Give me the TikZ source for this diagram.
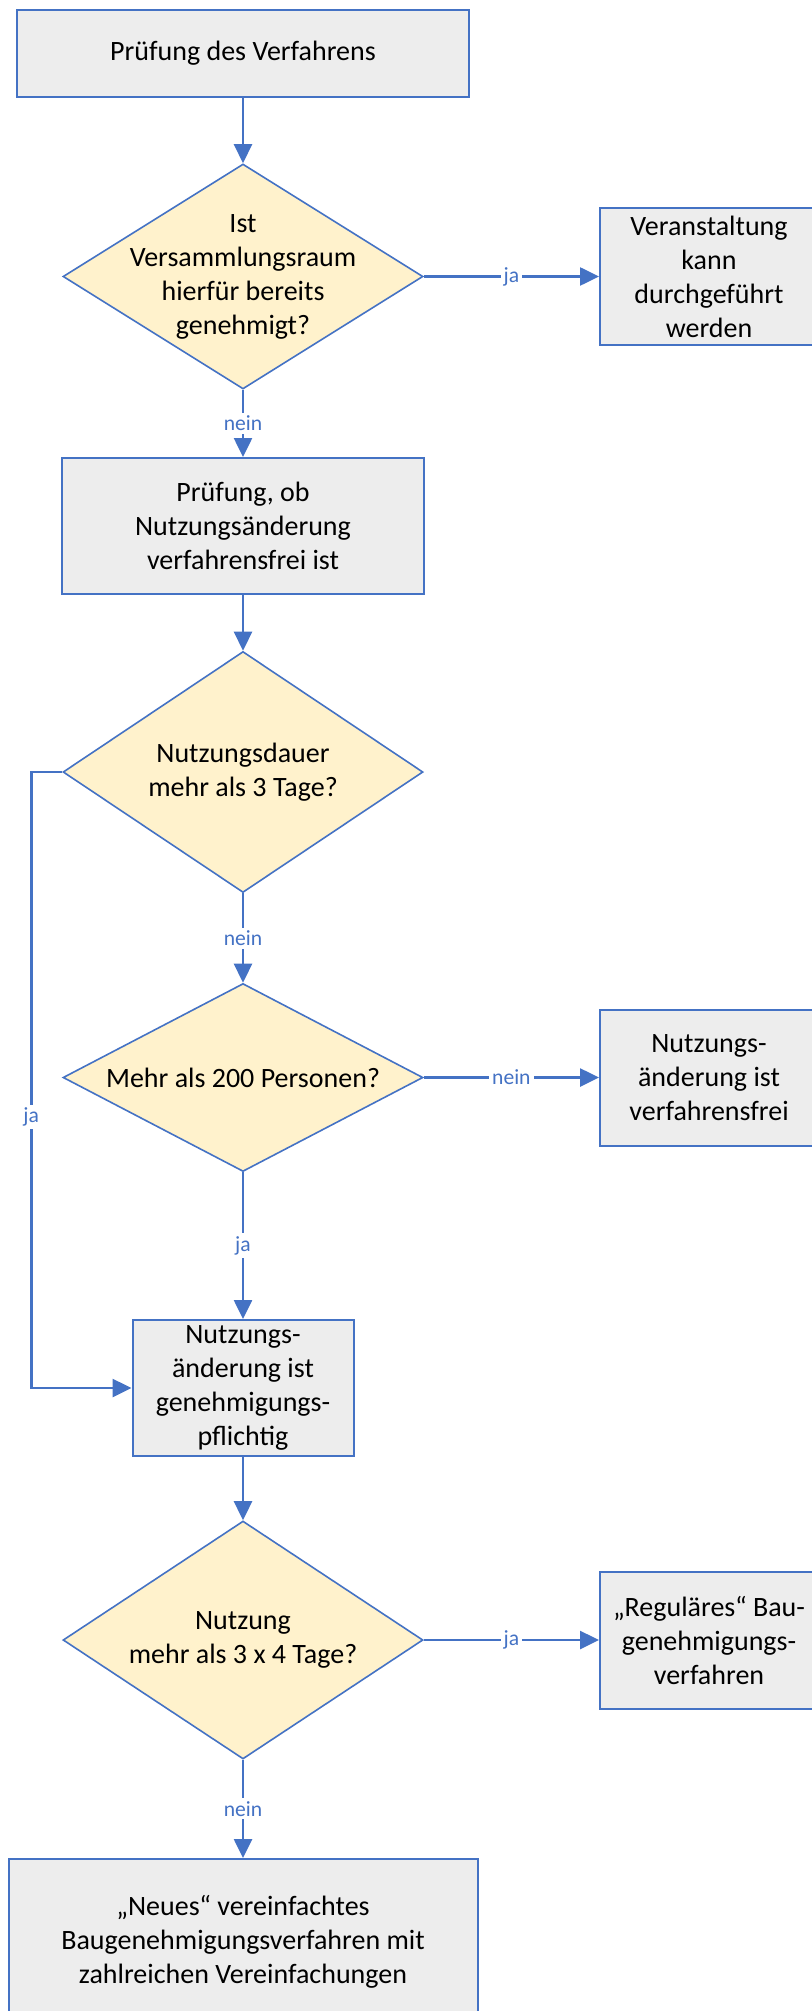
\documentclass[tikz,border=0pt]{standalone}
\usepackage{fontspec}
\setmainfont{Carlito}
\usepackage{tikz}
\usetikzlibrary{shapes,arrows.meta,positioning,calc}
\definecolor{offblue}{RGB}{68,114,196}
\definecolor{grey1}{RGB}{237,237,237}
\definecolor{gold1}{RGB}{255,242,204}

\begin{document}
\begin{tikzpicture}[x=0.5pt,y=-0.5pt,
        every node/.style={font=\fontsize{14}{17}\selectfont, align=center},
        box/.style={rectangle, draw=offblue, fill=grey1, line width=1pt, inner sep=1pt},
        raute/.style={diamond, draw=offblue, fill=gold1, line width=0.8pt, inner sep=0pt},
        arr/.style={draw=offblue, line width=1.3pt, -{Triangle[length=9.5pt,width=9pt]}},
        lbl/.style={font=\fontsize{10.8}{13}\selectfont, text=offblue, fill=white, inner sep=1.5pt}]
    \useasboundingbox (0,0) rectangle (812,2011);
        % main column
        \node[box, minimum width=226pt, minimum height=43.5pt] (pruef) at (243,53.5) {Prüfung des Verfahrens};
        \node[raute, minimum width=180pt, minimum height=112.5pt] (raum) at (243,276.5) {};
        \node (raumtxt) at (raum) {Ist\\Versammlungsraum\\hierfür bereits\\genehmigt?};
        \node[box, minimum width=181pt, minimum height=68pt] (frei) at (243,526) {Prüfung, ob\\Nutzungsänderung\\verfahrensfrei ist};
        \node[raute, minimum width=180pt, minimum height=120.5pt] (dauer) at (243,772) {};
        \node (dauertxt) at (dauer) {Nutzungsdauer\\mehr als 3 Tage?};
        \node[raute, minimum width=180pt, minimum height=94pt] (pers) at (243,1077.5) {};
        \node (perstxt) at (pers) {Mehr als 200 Personen?};
        \node[box, minimum width=110.5pt, minimum height=68pt] (pflicht) at (243,1388) {Nutzungs-\\änderung ist\\genehmigungs-\\pflichtig};
        \node[raute, minimum width=180pt, minimum height=119pt] (tage) at (243,1640) {};
        \node (tagetxt) at (tage) {Nutzung\\mehr als 3 x 4 Tage?};
        \node[box, minimum width=234.5pt, minimum height=83pt] (neu) at (243,1942) {„Neues“ vereinfachtes\\Baugenehmigungsverfahren mit\\zahlreichen Vereinfachungen};
        % right column
        \node[box, minimum width=109pt, minimum height=68.5pt] (durch) at (709,276.5) {Veranstaltung\\kann\\durchgeführt\\werden};
        \node[box, minimum width=109pt, minimum height=68pt] (vfrei) at (709,1077.5) {Nutzungs-\\änderung ist\\verfahrensfrei};
        \node[box, minimum width=109pt, minimum height=68.5pt] (regulaer) at (709,1640) {„Reguläres“ Bau-\\genehmigungs-\\verfahren};

        \draw[arr] (pruef.south) -- (raum.north);
        \draw[arr] (raum.east) -- node[lbl]{ja} (durch.west);
        \draw[arr] (raum.south) -- node[lbl]{nein} (frei.north);
        \draw[arr] (frei.south) -- (dauer.north);
        \draw[arr] (dauer.south) -- node[lbl]{nein} (pers.north);
        \draw[arr] (pers.east) -- node[lbl]{nein} (vfrei.west);
        \draw[arr] (pers.south) -- node[lbl]{ja} (pflicht.north);
        \draw[arr] (dauer.west) -- ++(-31,0) |- node[lbl, pos=0.28]{ja} (pflicht.west);
        \draw[arr] (pflicht.south) -- (tage.north);
        \draw[arr] (tage.east) -- node[lbl]{ja} (regulaer.west);
        \draw[arr] (tage.south) -- node[lbl]{nein} (neu.north);
\end{tikzpicture}
\end{document}
